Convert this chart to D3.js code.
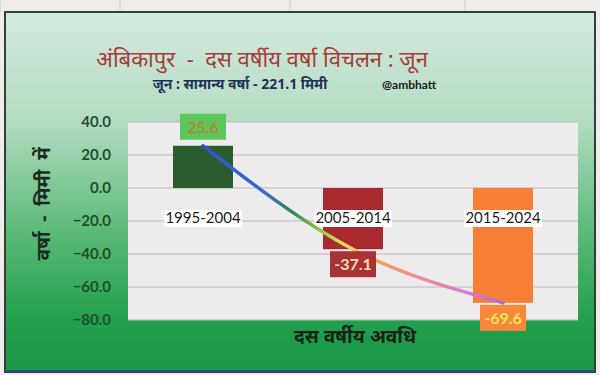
<!DOCTYPE html>
<html><head><meta charset="utf-8">
<script src="https://cdn.jsdelivr.net/npm/d3@7"></script>
<style>html,body{margin:0;padding:0;background:#ecebe8;}svg{display:block;}</style>
</head><body>
<svg id="c" width="600" height="375"></svg>
<script>
const categories = ["1995-2004", "2005-2014", "2015-2024"];
const values = [25.6, -37.1, -69.6];
const labels = ["25.6", "-37.1", "-69.6"];
const yTicks = [40, 20, 0, -20, -40, -60, -80];
const barColors = ["#2b5c2f", "#a82a2e", "#f77f35"];
const labelBg = ["#5cc65c", "#a83236", "#f6883c"];
const labelFg = ["#c9742c", "#f9dcb0", "#fde65e"];
const title = "अंबिकापुर  -  दस वर्षीय वर्षा विचलन : जून";
const subtitle = "जून : सामान्य वर्षा - 221.1 मिमी";
const handle = "@ambhatt";
const xTitle = "दस वर्षीय अवधि";
const yTitle = "वर्षा  -  मिमी  में";

const svg = d3.select("#c");
const defs = svg.append("defs");
const bg = defs.append("linearGradient").attr("id","bg").attr("x1",0).attr("y1",0).attr("x2",0).attr("y2",1);
bg.append("stop").attr("offset","0").attr("stop-color","#d3eadf");
bg.append("stop").attr("offset","0.3").attr("stop-color","#b4dcc2");
bg.append("stop").attr("offset","0.6").attr("stop-color","#5dbb7b");
bg.append("stop").attr("offset","0.85").attr("stop-color","#22a04e");
bg.append("stop").attr("offset","1").attr("stop-color","#1c9848");

// spreadsheet strip
svg.append("rect").attr("x",0).attr("y",0).attr("width",600).attr("height",375).attr("fill","#eeede9");
[0,120,290,465].forEach(x=>svg.append("line").attr("x1",x).attr("x2",x).attr("y1",0).attr("y2",12).attr("stroke","#cfcfcf"));
svg.append("rect").attr("x",5).attr("y",12).attr("width",590).attr("height",360)
  .attr("fill","url(#bg)").attr("stroke","#333d3a").attr("stroke-width",2);
svg.append("line").attr("x1",5).attr("x2",595).attr("y1",371).attr("y2",371).attr("stroke","#2a4f8a").attr("stroke-width",2);

const M = {l:128, r:578, t:122, b:320};
const x = d3.scaleBand().domain(categories).range([M.l, M.r]).paddingInner(0.6).paddingOuter(0.3);
const y = d3.scaleLinear().domain([-80, 40]).range([M.b, M.t]);

// plot area
svg.append("rect").attr("x",M.l).attr("y",M.t).attr("width",M.r-M.l).attr("height",M.b-M.t).attr("fill","#eeebec");
svg.append("g").selectAll("line").data(yTicks).join("line")
  .attr("x1",M.l).attr("x2",M.r).attr("y1",d=>y(d)).attr("y2",d=>y(d))
  .attr("stroke","#b9b7b8").attr("stroke-width",1);

const yAxis = svg.append("g").attr("transform",`translate(${M.l},0)`)
  .call(d3.axisLeft(y).tickValues(yTicks).tickFormat(d3.format(".1f")).tickSize(0).tickPadding(17));
yAxis.select(".domain").remove();
yAxis.selectAll("text").attr("font-family","Lato, 'Open Sans', sans-serif").attr("font-size",15)
  .attr("font-weight","bold").attr("fill","#1f4f2c");

// bars
svg.append("g").selectAll("rect").data(values).join("rect")
  .attr("x",(d,i)=>x(categories[i])).attr("width",x.bandwidth())
  .attr("y",d=>y(Math.max(0,d))).attr("height",d=>Math.abs(y(d)-y(0)))
  .attr("fill",(d,i)=>barColors[i]);

// category labels
const cl = svg.append("g").selectAll("g").data(categories).join("g")
  .attr("transform",d=>`translate(${x(d)+x.bandwidth()/2},${y(0)+30})`);
cl.append("rect").attr("x",-39).attr("y",-8).attr("width",78).attr("height",17).attr("fill","#ffffff");
cl.append("text").text(d=>d).attr("text-anchor","middle").attr("dy","0.36em")
  .attr("font-family","Lato, 'Open Sans', sans-serif").attr("font-size",15).attr("fill","#1a1a1a");

// trend line
const tg = defs.append("linearGradient").attr("id","tg").attr("gradientUnits","userSpaceOnUse")
  .attr("x1",x(categories[0])+x.bandwidth()/2).attr("x2",x(categories[2])+x.bandwidth()/2).attr("y1",0).attr("y2",0);
[["0","#3050d8"],["0.2","#3768d0"],["0.3","#2e8a58"],["0.4","#9ccc40"],["0.47","#f0dc5c"],["0.56","#f4a450"],["0.72","#ec8c98"],["0.88","#d27ed0"],["1","#b868c8"]]
  .forEach(s=>tg.append("stop").attr("offset",s[0]).attr("stop-color",s[1]));
const line = d3.line().x((d,i)=>x(categories[i])+x.bandwidth()/2).y(d=>y(d)).curve(d3.curveNatural);
svg.append("path").datum(values).attr("d",line).attr("fill","none").attr("stroke","url(#tg)").attr("stroke-width",3.5).attr("stroke-linecap","round");

// data labels
const dl = svg.append("g").selectAll("g").data(values).join("g")
  .attr("transform",(d,i)=>`translate(${x(categories[i])+x.bandwidth()/2},${d>=0? y(d)-19 : y(d)+15})`);
dl.append("rect").attr("x",-23).attr("y",-13).attr("width",46).attr("height",26).attr("fill",(d,i)=>labelBg[i]);
dl.append("text").text((d,i)=>labels[i]).attr("text-anchor","middle").attr("dy","0.36em")
  .attr("font-family","Lato, 'Open Sans', sans-serif").attr("font-size",16).attr("font-weight",(d,i)=>i===0?"normal":"bold")
  .attr("fill",(d,i)=>labelFg[i]);

// titles
svg.append("text").text(title).attr("x",262).attr("y",67).attr("text-anchor","middle").style("white-space","pre")
  .attr("font-family","'Noto Sans', sans-serif").attr("font-size",22).attr("fill","#a83a3a");
svg.append("text").text(subtitle).attr("x",240).attr("y",89).attr("text-anchor","middle")
  .attr("font-family","'Noto Sans', sans-serif").attr("font-size",14).attr("font-weight","bold").attr("fill","#1e2f56");
svg.append("text").text(handle).attr("x",382).attr("y",89).attr("text-anchor","start")
  .attr("font-family","Lato, 'Open Sans', sans-serif").attr("font-size",12).attr("font-weight","bold").attr("fill","#1a1a1a");
svg.append("text").text(xTitle).attr("x",355).attr("y",343).attr("text-anchor","middle")
  .attr("font-family","'Noto Sans', sans-serif").attr("font-size",19).attr("font-weight","bold").attr("fill","#142318");
svg.append("text").text(yTitle).attr("transform","translate(50,204) rotate(-90)").attr("text-anchor","middle").style("white-space","pre")
  .attr("font-family","'Noto Sans', sans-serif").attr("font-size",19).attr("font-weight","bold").attr("fill","#1b2a1e");
</script>
</body></html>
